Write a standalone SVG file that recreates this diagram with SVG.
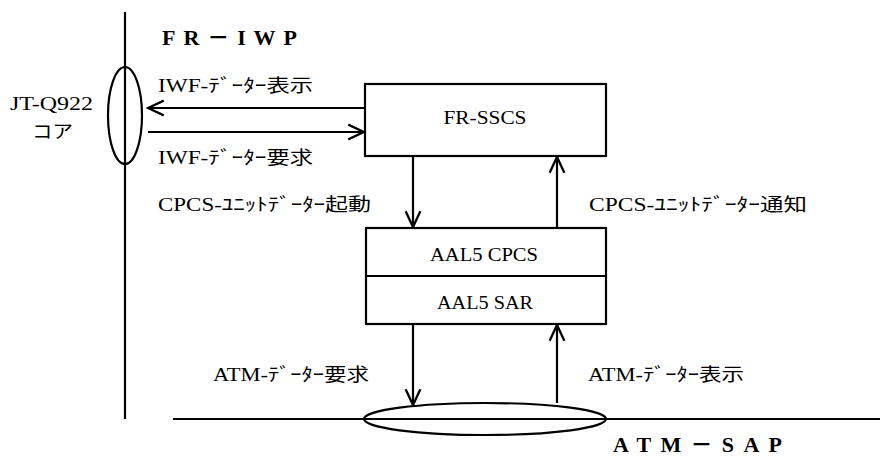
<svg xmlns="http://www.w3.org/2000/svg" width="880" height="457" viewBox="0 0 880 457">
<style>
.ln{stroke:#000;stroke-width:2.2;fill:none}
.t{font-family:"Liberation Serif","Noto Sans CJK JP",serif;font-size:18px;fill:#000}
.b{font-family:"Liberation Serif","Noto Sans CJK JP",serif;font-size:22px;font-weight:bold;fill:#000}
</style>
<defs>
<marker id="ah" markerUnits="userSpaceOnUse" markerWidth="20" markerHeight="20" viewBox="-17 -9 19 18" refX="0" refY="0" orient="auto">
<path d="M-15,-7 L0,0 L-15,7" fill="none" stroke="#000" stroke-width="2.2"/>
</marker>
</defs>
<rect width="880" height="457" fill="#fff"/>
<g id="fr-iwp">
<line class="ln" x1="125" y1="12" x2="125" y2="419"/>
<ellipse class="ln" cx="125" cy="115.5" rx="17" ry="48.5"/>
<text class="b" x="162" y="45" textLength="135" lengthAdjust="spacing">FR－IWP</text>
</g>
<g id="jt-q922">
<text class="t" x="10" y="110" textLength="83" lengthAdjust="spacingAndGlyphs">JT-Q922</text>
<text class="t" x="32" y="138" textLength="41" lengthAdjust="spacingAndGlyphs">コア</text>
</g>
<g id="fr-sscs">
<rect class="ln" x="365" y="84" width="241" height="72"/>
<text class="t" x="485" y="124" text-anchor="middle" font-size="20" textLength="83" lengthAdjust="spacingAndGlyphs">FR-SSCS</text>
</g>
<g id="aal5">
<rect class="ln" x="366" y="228" width="240" height="96"/>
<line class="ln" x1="366" y1="276" x2="606" y2="276"/>
<text class="t" x="484" y="261" text-anchor="middle" font-size="20" textLength="108" lengthAdjust="spacingAndGlyphs">AAL5 CPCS</text>
<text class="t" x="485" y="309" text-anchor="middle" font-size="20" textLength="96" lengthAdjust="spacingAndGlyphs">AAL5 SAR</text>
</g>
<g id="atm-sap">
<line class="ln" x1="173" y1="419" x2="880" y2="419"/>
<ellipse class="ln" cx="485" cy="419" rx="121" ry="16"/>
<text class="b" x="613" y="452" textLength="169" lengthAdjust="spacing">ATM－SAP</text>
</g>
<g id="connectors">
<line class="ln" x1="365" y1="108" x2="148" y2="108" marker-end="url(#ah)"/>
<line class="ln" x1="148" y1="132" x2="364" y2="132" marker-end="url(#ah)"/>
<line class="ln" x1="413" y1="156" x2="413" y2="227" marker-end="url(#ah)"/>
<line class="ln" x1="557" y1="228" x2="557" y2="157" marker-end="url(#ah)"/>
<line class="ln" x1="413" y1="324" x2="413" y2="405" marker-end="url(#ah)"/>
<line class="ln" x1="557" y1="403" x2="557" y2="325" marker-end="url(#ah)"/>
</g>
<g id="labels">
<text class="t" x="158" y="92" textLength="155" lengthAdjust="spacingAndGlyphs">IWF-ﾃﾞｰﾀｰ表示</text>
<text class="t" x="158" y="164" textLength="155" lengthAdjust="spacingAndGlyphs">IWF-ﾃﾞｰﾀｰ要求</text>
<text class="t" x="158" y="211" textLength="213" lengthAdjust="spacingAndGlyphs">CPCS-ﾕﾆｯﾄﾃﾞｰﾀｰ起動</text>
<text class="t" x="589" y="211" textLength="218" lengthAdjust="spacingAndGlyphs">CPCS-ﾕﾆｯﾄﾃﾞｰﾀｰ通知</text>
<text class="t" x="213" y="381" textLength="156" lengthAdjust="spacingAndGlyphs">ATM-ﾃﾞｰﾀｰ要求</text>
<text class="t" x="588" y="381" textLength="156" lengthAdjust="spacingAndGlyphs">ATM-ﾃﾞｰﾀｰ表示</text>
</g>
</svg>
